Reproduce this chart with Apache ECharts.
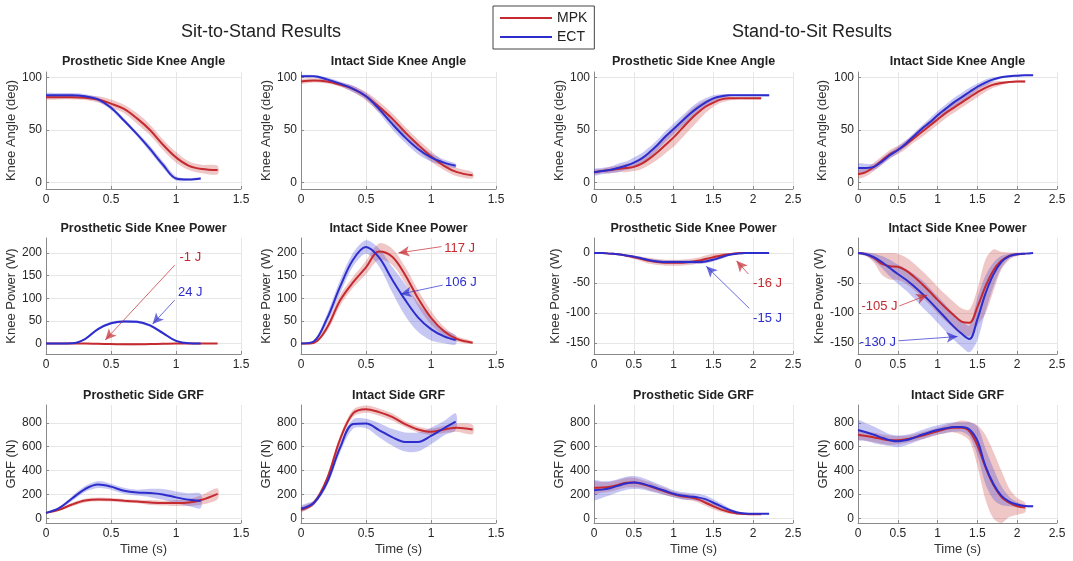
<!DOCTYPE html>
<html><head><meta charset="utf-8">
<script src="https://cdn.jsdelivr.net/npm/echarts@6/dist/echarts.min.js"></script>
<style>html,body{margin:0;padding:0;background:#fff}#c{width:1073px;height:561px}</style>
</head><body><div id="c"></div><script>
// ---------- time bases ----------
const tS2S_MPK = [0,0.1,0.2,0.3,0.4,0.5,0.6,0.7,0.8,0.9,1.0,1.1,1.2,1.32];
const tS2S_ECT = [0,0.1,0.2,0.3,0.4,0.5,0.6,0.7,0.8,0.9,1.0,1.1,1.19];
const tSTS_MPK = [0,0.1,0.2,0.3,0.4,0.5,0.6,0.7,0.8,0.9,1.0,1.1,1.2,1.3,1.4,1.5,1.6,1.7,1.8,1.9,2.0,2.1];
const tSTS_ECT = [0,0.1,0.2,0.3,0.4,0.5,0.6,0.7,0.8,0.9,1.0,1.1,1.2,1.3,1.4,1.5,1.6,1.7,1.8,1.9,2.0,2.1,2.2];

// ---------- Sit-to-Stand ----------
const s2sProsAngle_mpk   = [81,81,81,80.5,79,75,70,61,50,36,24,16,13,12];
const s2sProsAngle_mpkSd = [2,2,2,2,3,4,4,5,5,5,5,4,4,4];
const s2sProsAngle_ect   = [83,83,83,82,79,71,59,46,32,17,4,3,4];
const s2sProsAngle_ectSd = [2,2,2,2,2,2,2,2,3,3,2,1,1];

const s2sIntAngle_mpk   = [96,97,96,93,89,82,72,61,48,36,25,16,10,7];
const s2sIntAngle_mpkSd = [2,2,2,2,3,4,5,5,5,5,5,4,4,3];
const s2sIntAngle_ect   = [101,101,98,94,89,82,70,56,43,32,24,19,16];
const s2sIntAngle_ectSd = [1,1,2,2,3,3,4,5,5,5,4,3,2];

const s2sProsPower_mpk   = [0,0,0,0,-0.5,-1,-1.5,-1.5,-1,-0.5,0,0,0,0];
const s2sProsPower_mpkSd = [0.5,0.5,0.5,1,1,1.5,2,2,1.5,1,1,0.5,0.5,0.5];
const s2sProsPower_ect   = [0,0,0.5,10,32,45,49,48,40,23,6,0.5,0];
const s2sProsPower_ectSd = [0,0,0.5,2,3,3,3,3,3,3,2,0.5,0];

const s2sIntPower_mpk   = [0,2,35,95,135,168,203,192,152,100,57,27,10,2];
const s2sIntPower_mpkSd = [1,2,8,12,12,15,18,18,18,18,15,10,6,3];
const s2sIntPower_ect   = [0,5,55,125,185,213,190,142,97,58,32,16,8];
const s2sIntPower_ectSd = [1,3,10,15,15,15,20,28,35,32,25,15,10];

const s2sProsGRF_mpk   = [45,70,115,148,158,155,147,140,132,127,127,132,155,205];
const s2sProsGRF_mpkSd = [5,8,15,15,15,15,15,15,20,20,25,30,40,45];
const s2sProsGRF_ect   = [45,85,165,245,283,265,230,215,212,200,175,155,145];
const s2sProsGRF_ectSd = [5,10,20,25,30,25,25,25,35,45,50,55,60];

const s2sIntGRF_mpk   = [70,130,330,660,880,915,890,850,790,745,725,745,760,745];
const s2sIntGRF_mpkSd = [20,20,25,30,30,30,30,30,25,25,25,30,35,40];
const s2sIntGRF_ect   = [80,130,300,590,790,795,740,680,640,640,690,755,810];
const s2sIntGRF_ectSd = [25,20,30,40,40,40,60,70,80,80,70,60,70];

// ---------- Stand-to-Sit ----------
const stsProsAngle_mpk   = [10,11,12,13,14,15,18,23,29,36,43,51,59,66,72,76,79,80,80,80,80,80];
const stsProsAngle_mpkSd = [2,2,3,3,4,4,5,6,7,8,9,9,9,8,6,4,3,2,1,1,1,1];
const stsProsAngle_ect   = [10,11,12,14,16,19,23,29,36,44,51,58,65,71,76,80,82,83,83,83,83,83,83];
const stsProsAngle_ectSd = [3,3,3,4,4,5,5,5,5,5,5,5,5,5,4,3,2,1,1,1,1,1,1];

const stsIntAngle_mpk   = [8,10,15,21,27,31,36,42,48,54,60,66,71,76,81,86,90,93,94.5,95.5,96,96];
const stsIntAngle_mpkSd = [4,4,4,4,4,4,4,4,5,5,5,5,5,5,5,5,4,3,2,1,1,1];
const stsIntAngle_ect   = [14,14,15,20,26,31,37,44,51,57,64,70,76,81,86,91,95,98,100,101,101.5,102,102];
const stsIntAngle_ectSd = [4,4,3,3,3,3,3,3,3,4,4,4,4,4,4,3,3,2,1,1,1,0.5,0.5];

const stsProsPower_mpk   = [0,0,-1,-2,-4,-7,-10,-13,-15,-16,-16,-16,-15,-13,-10,-7,-4,-2,-0.5,0,0,0];
const stsProsPower_mpkSd = [0,0,1,1,2,3,4,5,5,5,5,5,5,5,6,6,4,2,1,0,0,0];
const stsProsPower_ect   = [0,0,-1,-2,-4,-6,-9,-12,-14,-15,-15,-15,-15,-15,-14,-11,-7,-3,-1,0,0,0,0];
const stsProsPower_ectSd = [0,0,0.5,1,1,2,2,2,3,3,3,3,3,3,3,3,3,2,1,0,0,0,0];

const stsIntPower_mpk   = [0,-2,-8,-18,-22,-23,-29,-39,-51,-64,-78,-91,-103,-114,-116,-90,-56,-29,-13,-5,-2,-1];
const stsIntPower_mpkSd = [1,3,8,18,22,22,22,22,22,22,22,22,22,22,22,30,45,35,15,6,3,1];
const stsIntPower_ect   = [0,-2,-7,-15,-25,-35,-44,-55,-67,-80,-94,-108,-122,-134,-143,-110,-68,-36,-15,-5,-2,-1,0];
const stsIntPower_ectSd = [1,3,6,10,14,16,18,20,22,22,22,22,22,22,22,35,30,20,10,4,2,1,0];

const stsProsGRF_mpk   = [255,258,265,280,298,300,288,268,245,222,200,185,175,160,130,100,72,52,40,35,33,33];
const stsProsGRF_mpkSd = [50,45,40,40,40,40,35,35,30,30,25,25,25,25,25,25,20,15,10,8,5,5];
const stsProsGRF_ect   = [235,240,252,272,292,300,292,272,250,228,205,190,182,175,160,130,100,70,48,40,38,38,38];
const stsProsGRF_ectSd = [80,70,60,55,55,55,50,45,40,35,30,30,30,30,30,30,25,15,10,5,3,3,3];

const stsIntGRF_mpk   = [700,690,678,665,655,655,662,675,692,710,730,748,760,760,730,610,430,280,180,130,100,90];
const stsIntGRF_mpkSd = [40,40,40,40,40,35,30,30,30,30,30,35,40,60,80,170,270,280,220,120,70,40];
const stsIntGRF_ect   = [740,722,700,676,655,645,655,675,700,722,740,755,765,765,745,650,440,290,190,140,115,102,100];
const stsIntGRF_ectSd = [80,75,70,60,50,50,45,40,40,40,40,40,40,40,60,120,150,130,80,40,20,10,5];

// ---------- tick labels ----------
const yTicksAngle = [0,50,100];
const yTicksPowerS2S = [0,50,100,150,200];
const yTicksPowerSTS = [-150,-100,-50,0];
const yTicksGRF = [0,200,400,600,800];

// ---------- annotations (data coordinates) ----------
const notes = [
  {p:2, who:'MPK', text:'-1 J',  at:[1.11,191], from:[0.99,173], to:[0.456,8]},
  {p:2, who:'ECT', text:'24 J',  at:[1.11,114], from:[0.99,96],  to:[0.82,43]},
  {p:3, who:'MPK', text:'117 J', at:[1.22,211], from:[1.08,214], to:[0.75,200]},
  {p:3, who:'ECT', text:'106 J', at:[1.23,134], from:[1.09,129], to:[0.765,109]},
  {p:8, who:'MPK', text:'-16 J', at:[2.18,-50], from:[1.94,-35], to:[1.79,-13]},
  {p:8, who:'ECT', text:'-15 J', at:[2.18,-109],from:[1.95,-92], to:[1.41,-22]},
  {p:9, who:'MPK', text:'-105 J',at:[0.27,-89], from:[0.52,-88], to:[0.87,-70]},
  {p:9, who:'ECT', text:'-130 J',at:[0.25,-148],from:[0.51,-146],to:[1.25,-139]}
];

// ---------- layout / style ----------
const FONT = '"Liberation Sans", Arial, sans-serif';
const RED = '#c42a2f', BLUE = '#2d2dcc';
const RED_BAND = 'rgba(205,70,70,0.30)', BLUE_BAND = 'rgba(70,70,215,0.30)';
const cols = [{left:46,width:195},{left:301,width:195},{left:594,width:199},{left:858,width:199}];
const rows = [{top:72,height:117,ty:62},{top:238,height:116,ty:229},{top:405,height:118,ty:396}];

const panels = [
  {r:0,c:0,title:'Prosthetic Side Knee Angle',tm:tS2S_MPK,te:tS2S_ECT,m:s2sProsAngle_mpk,ms:s2sProsAngle_mpkSd,e:s2sProsAngle_ect,es:s2sProsAngle_ectSd},
  {r:0,c:1,title:'Intact Side Knee Angle',tm:tS2S_MPK,te:tS2S_ECT,m:s2sIntAngle_mpk,ms:s2sIntAngle_mpkSd,e:s2sIntAngle_ect,es:s2sIntAngle_ectSd},
  {r:1,c:0,title:'Prosthetic Side Knee Power',tm:tS2S_MPK,te:tS2S_ECT,m:s2sProsPower_mpk,ms:s2sProsPower_mpkSd,e:s2sProsPower_ect,es:s2sProsPower_ectSd},
  {r:1,c:1,title:'Intact Side Knee Power',tm:tS2S_MPK,te:tS2S_ECT,m:s2sIntPower_mpk,ms:s2sIntPower_mpkSd,e:s2sIntPower_ect,es:s2sIntPower_ectSd},
  {r:2,c:0,title:'Prosthetic Side GRF',tm:tS2S_MPK,te:tS2S_ECT,m:s2sProsGRF_mpk,ms:s2sProsGRF_mpkSd,e:s2sProsGRF_ect,es:s2sProsGRF_ectSd},
  {r:2,c:1,title:'Intact Side GRF',tm:tS2S_MPK,te:tS2S_ECT,m:s2sIntGRF_mpk,ms:s2sIntGRF_mpkSd,e:s2sIntGRF_ect,es:s2sIntGRF_ectSd},
  {r:0,c:2,title:'Prosthetic Side Knee Angle',tm:tSTS_MPK,te:tSTS_ECT,m:stsProsAngle_mpk,ms:stsProsAngle_mpkSd,e:stsProsAngle_ect,es:stsProsAngle_ectSd},
  {r:0,c:3,title:'Intact Side Knee Angle',tm:tSTS_MPK,te:tSTS_ECT,m:stsIntAngle_mpk,ms:stsIntAngle_mpkSd,e:stsIntAngle_ect,es:stsIntAngle_ectSd},
  {r:1,c:2,title:'Prosthetic Side Knee Power',tm:tSTS_MPK,te:tSTS_ECT,m:stsProsPower_mpk,ms:stsProsPower_mpkSd,e:stsProsPower_ect,es:stsProsPower_ectSd},
  {r:1,c:3,title:'Intact Side Knee Power',tm:tSTS_MPK,te:tSTS_ECT,m:stsIntPower_mpk,ms:stsIntPower_mpkSd,e:stsIntPower_ect,es:stsIntPower_ectSd},
  {r:2,c:2,title:'Prosthetic Side GRF',tm:tSTS_MPK,te:tSTS_ECT,m:stsProsGRF_mpk,ms:stsProsGRF_mpkSd,e:stsProsGRF_ect,es:stsProsGRF_ectSd},
  {r:2,c:3,title:'Intact Side GRF',tm:tSTS_MPK,te:tSTS_ECT,m:stsIntGRF_mpk,ms:stsIntGRF_mpkSd,e:stsIntGRF_ect,es:stsIntGRF_ectSd}
];

function yAxisSpec(r,c){
  if (r===0) return {min:-6,max:105,ticks:yTicksAngle,name:'Knee Angle (deg)'};
  if (r===1 && c<2) return {min:-23,max:233,ticks:yTicksPowerS2S,name:'Knee Power (W)'};
  if (r===1) return {min:-168,max:25,ticks:yTicksPowerSTS,name:'Knee Power (W)'};
  return {min:-40,max:950,ticks:yTicksGRF,name:'GRF (N)'};
}
const nameGaps = [[23,26,27,29],[23,25,29,30],[24,26,28,28]];

// shaded mean±sd band drawn as one polygon through the axis scales
function bandSeries(i, t, v, sd, color){
  return {type:'custom', xAxisIndex:i, yAxisIndex:i, clip:true, silent:true,
    data:t.map((x,k)=>[x, v[k]-sd[k], v[k]+sd[k]]),
    encode:{x:0, y:[1,2]},
    renderItem:function(params, api){
      if (params.dataIndex !== 0) return null;
      const top = t.map((x,k)=>api.coord([x, v[k]+sd[k]]));
      const bot = t.map((x,k)=>api.coord([x, v[k]-sd[k]])).reverse();
      return {type:'polygon', shape:{points:top.concat(bot), smooth:0.3}, style:{fill:color}, silent:true};
    }};
}

const grids=[], xAxes=[], yAxes=[], series=[], texts=[];
const SMOOTH = 0.35;
panels.forEach((p,i)=>{
  const col=cols[p.c], row=rows[p.r];
  grids.push({left:col.left,top:row.top,width:col.width,height:row.height,containLabel:false});
  const sts = p.c>=2;
  xAxes.push({type:'value',gridIndex:i,min:0,max:sts?2.5:1.5,interval:0.5,
    name:p.r===2?'Time (s)':'',nameLocation:'middle',nameGap:20,
    nameTextStyle:{fontFamily:FONT,fontSize:13,color:'#333'},
    axisLine:{onZero:false,lineStyle:{color:'#8a8a8a',width:1}},
    axisTick:{inside:true,length:3,lineStyle:{color:'#8a8a8a'}},
    axisLabel:{fontFamily:FONT,fontSize:12,color:'#262626',margin:5},
    splitLine:{show:true,lineStyle:{color:'#e6e6e6',width:1}}});
  const ys = yAxisSpec(p.r,p.c);
  yAxes.push({type:'value',gridIndex:i,min:ys.min,max:ys.max,
    name:ys.name,nameLocation:'middle',nameGap:nameGaps[p.r][p.c],nameRotate:90,
    nameTextStyle:{fontFamily:FONT,fontSize:13,color:'#333'},
    axisLine:{show:true,onZero:false,lineStyle:{color:'#8a8a8a',width:1}},
    axisTick:{show:true,inside:true,length:3,customValues:ys.ticks,lineStyle:{color:'#8a8a8a'}},
    axisLabel:{fontFamily:FONT,fontSize:12,color:'#262626',margin:4,customValues:ys.ticks},
    splitLine:{show:true,lineStyle:{color:'#e6e6e6',width:1}}});
  const groups = [
    {name:'MPK',t:p.tm,v:p.m,sd:p.ms,color:RED,band:RED_BAND},
    {name:'ECT',t:p.te,v:p.e,sd:p.es,color:BLUE,band:BLUE_BAND}
  ];
  groups.forEach(g=>{
    series.push(bandSeries(i, g.t, g.v, g.sd, g.band));
    const my = notes.filter(n=>n.p===i && n.who===g.name);
    const s = {type:'line',name:g.name,xAxisIndex:i,yAxisIndex:i,color:g.color,
      data:g.t.map((x,k)=>[x,g.v[k]]),symbol:'none',smooth:SMOOTH,
      lineStyle:{width:2,color:g.color},itemStyle:{color:g.color}};
    if (my.length){
      s.markLine={silent:true,animation:false,symbol:['none','arrow'],symbolSize:[8,11],
        label:{show:false},lineStyle:{type:'solid',width:1,color:g.color,opacity:0.7},
        data:my.map(n=>[{coord:n.from},{coord:n.to}])};
      s.markPoint={silent:true,animation:false,
        data:my.map(n=>({coord:n.at,symbol:'circle',symbolSize:1,itemStyle:{color:'rgba(0,0,0,0)'},
          label:{show:true,position:'inside',formatter:n.text,color:g.color,fontFamily:FONT,fontSize:13}}))};
    }
    series.push(s);
  });
  texts.push({type:'text',x:col.left+col.width/2,y:row.ty,
    style:{text:p.title,font:'bold 12.5px '+FONT,fill:'#222',textAlign:'center',textVerticalAlign:'middle'}});
});
texts.push({type:'text',x:261,y:32,style:{text:'Sit-to-Stand Results',font:'18px '+FONT,fill:'#222',textAlign:'center',textVerticalAlign:'middle'}});
texts.push({type:'text',x:812,y:32,style:{text:'Stand-to-Sit Results',font:'18px '+FONT,fill:'#222',textAlign:'center',textVerticalAlign:'middle'}});

const chart = echarts.init(document.getElementById('c'),null,{renderer:'canvas'});
chart.setOption({
  animation:false,
  backgroundColor:'#fff',
  legend:{data:['MPK','ECT'],orient:'vertical',left:493,top:6,
    icon:'path://M0,0L52,0L52,2L0,2Z',itemWidth:52,itemHeight:14,itemGap:5,
    padding:[5,7,5,7],borderColor:'#444',borderWidth:1,backgroundColor:'#fff',selectedMode:false,
    textStyle:{fontFamily:FONT,fontSize:14,color:'#222'}},
  grid:grids, xAxis:xAxes, yAxis:yAxes, series:series,
  graphic:{elements:texts}
});
</script></body></html>
